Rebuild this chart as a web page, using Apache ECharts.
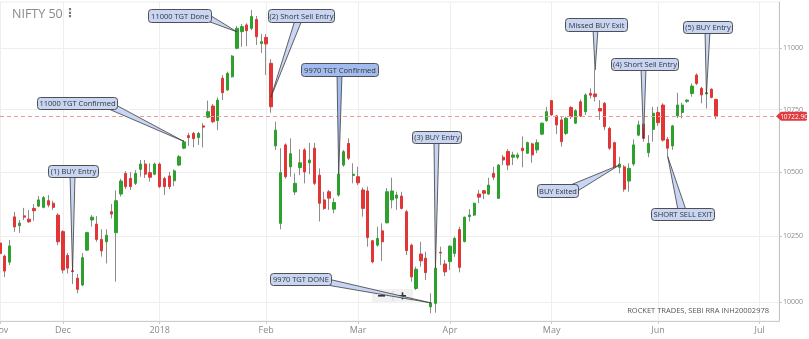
<!DOCTYPE html>
<html><head><meta charset="utf-8">
<script src="https://cdn.jsdelivr.net/npm/echarts@6/dist/echarts.min.js"></script>
<style>html,body{margin:0;padding:0;background:#fff}#c{width:809px;height:339px}</style>
</head><body><div id="c"></div>
<script>
const dates = [
'2017-11-14','2017-11-15','2017-11-16','2017-11-17','2017-11-20','2017-11-21','2017-11-22','2017-11-23','2017-11-24','2017-11-27','2017-11-28','2017-11-29','2017-11-30',
'2017-12-01','2017-12-04','2017-12-05','2017-12-06','2017-12-07','2017-12-08','2017-12-11','2017-12-12','2017-12-13','2017-12-14','2017-12-15','2017-12-18','2017-12-19','2017-12-20','2017-12-21','2017-12-22','2017-12-26','2017-12-27','2017-12-28','2017-12-29',
'2018-01-01','2018-01-02','2018-01-03','2018-01-04','2018-01-05','2018-01-08','2018-01-09','2018-01-10','2018-01-11','2018-01-12','2018-01-15','2018-01-16','2018-01-17','2018-01-18','2018-01-19','2018-01-22','2018-01-23','2018-01-24','2018-01-25','2018-01-29','2018-01-30','2018-01-31',
'2018-02-01','2018-02-02','2018-02-05','2018-02-06','2018-02-07','2018-02-08','2018-02-09','2018-02-12','2018-02-14','2018-02-15','2018-02-16','2018-02-19','2018-02-20','2018-02-21','2018-02-22','2018-02-23','2018-02-26','2018-02-27','2018-02-28',
'2018-03-01','2018-03-05','2018-03-06','2018-03-07','2018-03-08','2018-03-09','2018-03-12','2018-03-13','2018-03-14','2018-03-15','2018-03-16','2018-03-19','2018-03-20','2018-03-21','2018-03-22','2018-03-23','2018-03-26','2018-03-27','2018-03-28',
'2018-04-02','2018-04-03','2018-04-04','2018-04-05','2018-04-06','2018-04-09','2018-04-10','2018-04-11','2018-04-12','2018-04-13','2018-04-16','2018-04-17','2018-04-18','2018-04-19','2018-04-20','2018-04-23','2018-04-24','2018-04-25','2018-04-26','2018-04-27','2018-04-30',
'2018-05-02','2018-05-03','2018-05-04','2018-05-07','2018-05-08','2018-05-09','2018-05-10','2018-05-11','2018-05-14','2018-05-15','2018-05-16','2018-05-17','2018-05-18','2018-05-21','2018-05-22','2018-05-23','2018-05-24','2018-05-25','2018-05-28','2018-05-29','2018-05-30','2018-05-31',
'2018-06-01','2018-06-04','2018-06-05','2018-06-06','2018-06-07','2018-06-08','2018-06-11','2018-06-12','2018-06-13','2018-06-14','2018-06-15','2018-06-18','2018-06-19','2018-06-20','2018-06-21','2018-06-22','2018-06-25','2018-06-26','2018-06-27','2018-06-28','2018-06-29',
'2018-07-02','2018-07-03','2018-07-04','2018-07-05','2018-07-06'
];
const opens = [
10224,10174,10151,10325,10291,10329,10316,10358,10367,10362,10388,10378,10332,
10268,10177,10118,10090,10064,10197,10313,10297,10238,10229,10345,10264,10414,10495,10475,10456,10511,10532,10498,10492,
10532,10475,10485,10466,10528,10595,10645,10654,10637,10684,10719,10764,10705,10877,10829,10883,11000,11069,11097,11083,11120,11020,
11045,10938,10604,10300,10608,10521,10422,10518,10588,10537,10595,10488,10391,10423,10355,10410,10528,10614,10487,
10482,10430,10426,10233,10216,10271,10302,10391,10398,10406,10345,10216,10051,10182,10166,9982,9995,10189,10144,
10153,10184,10276,10230,10326,10332,10414,10427,10414,10495,10397,10559,10582,10559,10559,10595,10575,10612,10588,10651,10705,
10786,10724,10708,10654,10758,10695,10781,10741,10815,10813,10754,10775,10674,10617,10519,10521,10465,10532,10647,10692,10577,10670,
10738,10768,10630,10604,10724,10738,10783,10815,10890,10836,10813,10832,10791
];
const closes = [
10184,10117,10213,10286,10301,10324,10306,10349,10391,10400,10371,10362,10229,
10121,10128,10115,10048,10168,10264,10324,10238,10194,10254,10336,10388,10465,10443,10443,10495,10532,10492,10480,10532,
10443,10443,10443,10505,10561,10620,10637,10633,10654,10679,10741,10701,10788,10818,10897,10968,11083,11090,11073,11132,11048,11027,
11018,10761,10667,10498,10482,10573,10456,10537,10501,10548,10456,10378,10358,10398,10381,10492,10581,10555,10492,
10458,10358,10245,10152,10242,10229,10423,10426,10410,10358,10195,10095,10124,10156,10111,9997,10128,10186,10114,
10212,10242,10131,10324,10332,10378,10402,10417,10449,10480,10528,10548,10528,10568,10568,10585,10617,10568,10617,10695,10741,
10728,10688,10621,10715,10721,10745,10724,10809,10808,10802,10744,10681,10595,10519,10532,10433,10515,10608,10688,10634,10614,10735,
10697,10627,10595,10684,10768,10768,10788,10845,10856,10809,10818,10799,10722.9
];
const highs = [
10250,10180,10236,10345,10313,10360,10352,10375,10406,10406,10410,10388,10339,
10274,10186,10151,10106,10185,10268,10332,10328,10277,10277,10375,10428,10474,10504,10500,10508,10548,10548,10535,10538,
10538,10482,10501,10511,10568,10627,10656,10660,10660,10695,10786,10772,10799,10890,10904,10972,11093,11101,11104,11160,11134,11059,
11059,10955,10701,10595,10614,10634,10495,10591,10595,10616,10616,10515,10423,10430,10398,10498,10588,10634,10535,
10521,10440,10443,10236,10287,10300,10437,10478,10423,10423,10352,10222,10134,10229,10191,10033,10134,10210,10159,
10216,10249,10287,10326,10355,10380,10430,10430,10478,10521,10532,10568,10591,10581,10577,10642,10621,10617,10630,10697,10761,
10788,10728,10721,10721,10764,10751,10791,10815,10836,10911,10788,10781,10681,10621,10561,10528,10535,10630,10705,10708,10647,10761,
10761,10775,10640,10688,10818,10777,10791,10856,10897,10842,10842,10836,10791
];
const lows = [
10178,10094,10140,10267,10263,10313,10302,10310,10363,10358,10362,10352,10216,
10108,10108,10068,10033,10060,10194,10287,10229,10172,10146,10319,10077,10404,10434,10430,10449,10482,10477,10463,10488,
10437,10410,10433,10445,10524,10591,10604,10598,10608,10598,10715,10695,10667,10788,10826,10880,10996,11006,11009,11075,11014,10981,
10890,10737,10588,10277,10475,10482,10410,10488,10456,10492,10449,10307,10352,10352,10339,10404,10521,10548,10456,
10449,10326,10210,10146,10210,10155,10300,10358,10352,10354,10178,10077,10045,10134,10083,9958,9960,10140,10098,
10121,10171,10112,10226,10307,10328,10379,10394,10410,10469,10397,10528,10508,10528,10551,10519,10572,10537,10575,10647,10701,
10724,10651,10601,10647,10711,10692,10719,10728,10795,10782,10708,10667,10588,10515,10495,10423,10423,10524,10643,10621,10559,10621,
10684,10621,10562,10588,10715,10715,10777,10802,10849,10775,10754,10795,10711
];
const yTicks = [10000, 10250, 10500, 10750, 11000];
const lastPrice = 10722.90;
const monthNames = ['Jan','Feb','Mar','Apr','May','Jun','Jul','Aug','Sep','Oct','Nov','Dec'];

// annotations: text, box [x,y,w,h] (layout), pointer base points (layout), target candle index + price (data)
const notes = [
  {text:'(1) BUY Entry',        box:[48,165,50,12],  base:[[70,175],[75,175]],   idx:15,  val:10116},
  {text:'11000 TGT Confirmed',  box:[37,97,80,12],   base:[[104,107],[114,104]], idx:38,  val:10622},
  {text:'11000 TGT Done',       box:[148,9,63,13],   base:[[202,19],[208,14]],   idx:49,  val:11068},
  {text:'(2) Short Sell Entry', box:[268,9,66,13],   base:[[295,20],[302,20]],   idx:56,  val:10800},
  {text:'9970 TGT Confirmed',   box:[301,63,77,13],  base:[[337,74],[342,74]],   idx:70,  val:10492, dark:true},
  {text:'9970 TGT DONE',        box:[270,273,61,12], base:[[321,284],[328,279]], idx:89,  val:9997},
  {text:'(3) BUY Entry',        box:[412,131,49,12], base:[[434,141],[439,141]], idx:90,  val:10128},
  {text:'Missed BUY Exit',      box:[565,18,62,13],  base:[[593,29],[598,29]],   idx:123, val:10911},
  {text:'(4) Short Sell Entry', box:[611,58,67,12],  base:[[641,68],[646,68]],   idx:133, val:10634},
  {text:'(5) BUY Entry',        box:[683,21,49,12],  base:[[705,31],[710,31]],   idx:146, val:10813},
  {text:'BUY Exited',           box:[537,184,41,13], base:[[568,186],[576,192]], idx:128, val:10528},
  {text:'SHORT SELL EXIT',      box:[651,208,63,12], base:[[678,210],[686,210]], idx:138, val:10562}
];

const wickData = opens.map((o, i) => [o, closes[i], lows[i], highs[i]]);
const bodyData = opens.map((o, i) => [o, closes[i], Math.min(o, closes[i]), Math.max(o, closes[i])]);
const isMonthStart = (i) => i === 0 || dates[i].slice(5, 7) !== dates[i - 1].slice(5, 7);
const monthLabel = (v) => { const m = +v.slice(5, 7); return m === 1 ? v.slice(0, 4) : monthNames[m - 1]; };

const GREEN = '#2ea02e', RED = '#e23636', WICK = '#8c8c8c';
const chart = echarts.init(document.getElementById('c'), null, {renderer: 'canvas'});
chart.setOption({
  animation: false,
  backgroundColor: '#fff',
  textStyle: {fontFamily: 'Open Sans'},
  grid: {left: 0, right: 30, top: 2, bottom: 18, show: true, borderColor: '#eeeeee', borderWidth: 1, outerBoundsMode: 'none', containLabel: false},
  xAxis: {
    type: 'category', data: dates, boundaryGap: false,
    axisLine: {show: true, lineStyle: {color: '#cccccc'}},
    axisTick: {show: true, alignWithLabel: true, length: 3, interval: isMonthStart, lineStyle: {color: '#cccccc'}},
    axisLabel: {interval: isMonthStart, formatter: monthLabel, fontSize: 9, color: '#8a8a8a', margin: 5, hideOverlap: false, showMinLabel: true},
    splitLine: {show: true, interval: isMonthStart, lineStyle: {color: '#eeeeee'}}
  },
  yAxis: {
    type: 'log', logBase: 10, position: 'right', min: 9929, max: 11193,
    axisLine: {show: true, lineStyle: {color: '#c4c4c4'}},
    axisTick: {show: true, length: 3, customValues: yTicks, lineStyle: {color: '#c4c4c4'}},
    axisLabel: {customValues: yTicks, fontSize: 7, color: '#8a8a8a', margin: 4, formatter: (v) => String(Math.round(v))},
    splitLine: {show: true, lineStyle: {color: '#eeeeee'}}
  },
  series: [
    {type: 'candlestick', name: 'wick', data: wickData, barWidth: 1, silent: true, z: 2,
     itemStyle: {color: WICK, color0: WICK, borderColor: WICK, borderColor0: WICK, borderWidth: 1}},
    {type: 'candlestick', name: 'NIFTY 50', data: bodyData, barWidth: 2.8, silent: true, z: 3,
     itemStyle: {color: GREEN, color0: RED, borderColor: GREEN, borderColor0: RED, borderWidth: 1},
     markLine: {symbol: ['none', 'none'], silent: true, animation: false,
       lineStyle: {color: '#f29a9a', type: [4, 3], width: 1},
       label: {show: false},
       data: [{yAxis: lastPrice}]}}
  ]
});

const px = (i, v) => chart.convertToPixel({xAxisIndex: 0, yAxisIndex: 0}, [i, v]);
const g = [];
g.push({type: 'text', x: 12, y: 8, z: 60, style: {text: 'NIFTY 50', fill: '#8a8a8a', fontSize: 12.5, fontFamily: 'Open Sans'}});
g.push({type: 'text', x: 64, y: 8, z: 60, style: {text: '\u22EE', fill: '#777', fontSize: 12, fontWeight: 'bold', fontFamily: 'DejaVu Sans'}});
g.push({type: 'text', x: 769, y: 311, z: 60, style: {text: 'ROCKET TRADES, SEBI RRA INH20002978', fill: '#555', fontSize: 7.5, fontFamily: 'Open Sans', align: 'right', verticalAlign: 'middle'}});
// last-price tag on the right axis
const ty = px(0, lastPrice)[1];
g.push({type: 'polygon', z: 60, shape: {points: [[776, ty], [781, ty - 4.5], [806, ty - 4.5], [807, ty - 3.5], [807, ty + 3.5], [806, ty + 4.5], [781, ty + 4.5]]},
        style: {fill: '#e0393e', stroke: 'none'}});
g.push({type: 'text', z: 61, x: 794, y: ty + 0.5, style: {text: lastPrice.toFixed(2), fill: '#fff', fontSize: 6.5, fontFamily: 'Open Sans', align: 'center', verticalAlign: 'middle'}});
// zoom control
g.push({type: 'rect', z: 40, shape: {x: 372, y: 289, width: 41, height: 14, r: 2}, style: {fill: 'rgba(240,240,240,0.95)', stroke: 'none'}});
g.push({type: 'line', z: 41, shape: {x1: 393, y1: 291, x2: 393, y2: 301}, style: {stroke: '#d4d4d4', lineWidth: 1}});
g.push({type: 'rect', z: 42, shape: {x: 378, y: 295, width: 7, height: 1.6}, style: {fill: '#333'}});
g.push({type: 'rect', z: 42, shape: {x: 399, y: 295, width: 7, height: 1.6}, style: {fill: '#333'}});
g.push({type: 'rect', z: 42, shape: {x: 401.7, y: 292.3, width: 1.6, height: 7}, style: {fill: '#333'}});
notes.forEach((n) => {
  const t = px(n.idx, n.val);
  g.push({type: 'polygon', z: 50, shape: {points: [n.base[0], n.base[1], t]},
          style: {fill: n.dark ? '#a2bcf0' : '#c8d6f4', stroke: '#3c3c3c', lineWidth: 0.8}});
});
notes.forEach((n) => {
  g.push({type: 'rect', z: 51, shape: {x: n.box[0] + 0.5, y: n.box[1] + 0.5, width: n.box[2], height: n.box[3], r: 3},
          style: {fill: n.dark ? '#a2bcf0' : '#c8d6f4', stroke: '#505050', lineWidth: 1}});
  g.push({type: 'text', z: 52, x: n.box[0] + n.box[2] / 2 + 0.5, y: n.box[1] + n.box[3] / 2 + 1,
          style: {text: n.text, fill: '#333', fontSize: 7.5, fontFamily: 'Open Sans', align: 'center', verticalAlign: 'middle'}});
});
chart.setOption({graphic: g});
</script>
</body></html>
